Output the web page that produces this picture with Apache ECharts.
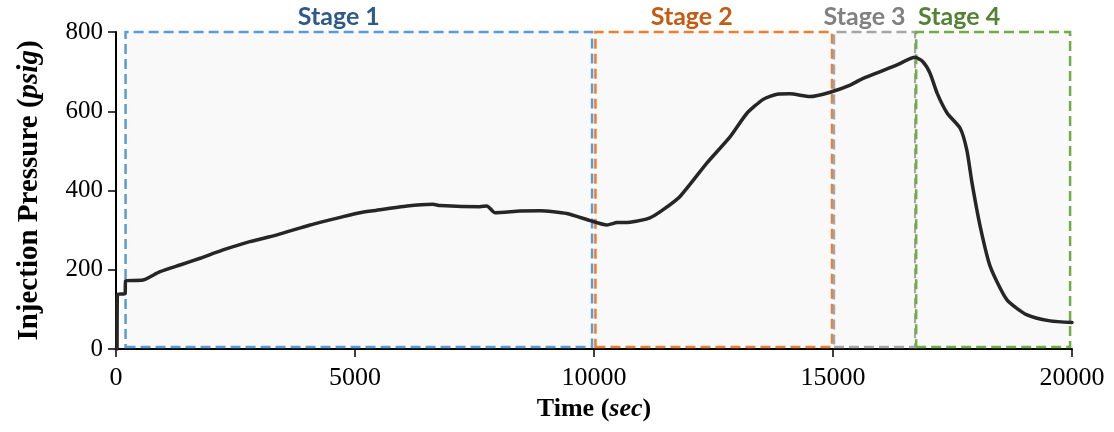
<!DOCTYPE html>
<html>
<head>
<meta charset="utf-8">
<script src="https://cdn.jsdelivr.net/npm/echarts@6/dist/echarts.min.js"></script>
<style>
  html, body { margin: 0; padding: 0; background: #fff; }
  #chart { width: 1114px; height: 432px; }
</style>
</head>
<body>
<div id="chart"></div>
<script>
// Injection pressure record (time in seconds, pressure in psig)
const timeSec = [0, 20, 30, 190, 200, 565, 920, 1340, 1760, 2240, 2800, 3370, 4060, 4750, 5100, 5380,
  6090, 6630, 6780, 7610, 7760, 7930, 8450, 8870, 9430, 9920, 10270, 10480, 10750, 11170, 11440,
  11800, 12360, 12850, 13200, 13540, 13830, 14100, 14520, 14940, 15360, 15630, 16340, 16715,
  16880, 17030, 17180, 17390, 17660, 17800, 17910, 18080, 18290, 18640, 19060, 19540, 20000];
const pressurePsig = [0, 0, 138, 140, 172, 174, 195, 212, 229, 250, 271, 288, 313, 334, 344, 349,
  361, 365, 362, 359, 361, 344, 348, 349, 342, 324, 313, 319, 320, 331, 351,
  385, 469, 536, 595, 630, 643, 644, 637, 648, 666, 683, 717, 736,
  725, 696, 645, 595, 557, 502, 418, 309, 208, 124, 86, 71, 67];

// Test stages
const stageNames = ['Stage 1', 'Stage 2', 'Stage 3', 'Stage 4'];
const stageStart = [200, 10030, 15020, 16740];
const stageEnd = [9960, 14980, 16720, 19960];
const stageBorder = ['#5B9BD5', '#ED7D31', '#A5A5A5', '#70AD47'];
const stageText = ['#2E5A87', '#C55A11', '#808080', '#548235'];
const stageLabelShift = [-20, -22, -10, -34];

// Axis ticks
const xTicks = [0, 5000, 10000, 15000, 20000];
const yTicks = [0, 200, 400, 600, 800];

const serif = '"Liberation Serif", "Times New Roman", serif';
const chart = echarts.init(document.getElementById('chart'), null, { renderer: 'canvas' });

const stageAreas = stageNames.map((name, i) => [
  {
    name: name,
    xAxis: stageStart[i],
    yAxis: 5,
    itemStyle: { color: '#f9f9f9', borderColor: stageBorder[i], borderWidth: 2.5, borderType: 'dashed' },
    label: {
      show: true, position: 'top', distance: 1, offset: [stageLabelShift[i], 0],
      color: stageText[i], fontFamily: 'Lato', fontWeight: 'bold', fontSize: 25
    }
  },
  { xAxis: stageEnd[i], yAxis: 800 }
]);

const titleRich = (size) => ({
  b: { fontFamily: serif, fontWeight: 'bold', fontSize: size, color: '#000' },
  i: { fontFamily: serif, fontWeight: 'bold', fontStyle: 'italic', fontSize: size, color: '#000' }
});

chart.setOption({
  animation: false,
  grid: { left: 116, right: 42, top: 32, bottom: 83, containLabel: false },
  xAxis: {
    type: 'value', min: xTicks[0], max: xTicks[xTicks.length - 1], interval: 5000,
    name: '{b|Time (}{i|sec}{b|)}',
    nameLocation: 'middle', nameGap: 44,
    nameTextStyle: { rich: titleRich(26) },
    axisLine: { show: true, onZero: false, lineStyle: { color: '#000', width: 2 } },
    axisTick: { show: true, inside: false, length: 8, lineStyle: { color: '#000', width: 1.5 } },
    axisLabel: { fontFamily: serif, fontSize: 26, color: '#000', margin: 16, formatter: (v) => String(v) },
    splitLine: { show: false }
  },
  yAxis: {
    type: 'value', min: yTicks[0], max: yTicks[yTicks.length - 1], interval: 200,
    name: '{b|Injection Pressure (}{i|psig}{b|)}',
    nameLocation: 'middle', nameGap: 72, nameRotate: 90,
    nameTextStyle: { rich: titleRich(29) },
    axisLine: { show: true, lineStyle: { color: '#000', width: 2 } },
    axisTick: { show: true, inside: false, length: 8, lineStyle: { color: '#000', width: 1.5 } },
    axisLabel: { fontFamily: serif, fontSize: 25, color: '#000', margin: 13, formatter: (v) => String(v) },
    splitLine: { show: false }
  },
  series: [
    {
      type: 'line', data: [], z: 1, silent: true,
      markArea: {
        silent: true,
        itemStyle: { borderWidth: 2.5, borderType: 'dashed' },
        data: stageAreas
      }
    },
    {
      type: 'line', z: 5,
      data: timeSec.map((t, i) => [t, pressurePsig[i]]),
      showSymbol: false, symbol: 'none',
      smooth: 0.2,
      lineStyle: { color: '#262626', width: 3.5, join: 'round', cap: 'round' }
    }
  ]
});
</script>
</body>
</html>
